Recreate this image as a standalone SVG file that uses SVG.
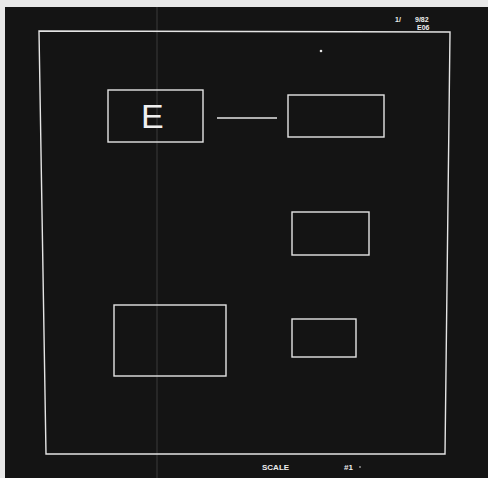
<svg xmlns="http://www.w3.org/2000/svg" width="488" height="478" viewBox="0 0 488 478">
<style>
.ln{fill:none;stroke:#e4e4e4;stroke-width:1.4}
.txt{fill:#eeeeee;font-family:"Liberation Sans",Arial,sans-serif;font-weight:bold}
</style>
<rect x="0" y="0" width="488" height="478" fill="#e8e8e8"/>
<rect x="5" y="7" width="483" height="471" fill="#141414"/>
<line x1="157" y1="7" x2="157" y2="478" stroke="#3a3a3a" stroke-width="1"/>
<g id="frame">
<polygon class="ln" points="39,31 450,32 445,454 46,454"/>
</g>
<g id="node-e">
<rect class="ln" x="108" y="90" width="95" height="52"/>
<text x="141" y="128" font-family="'Liberation Sans',Arial,sans-serif" font-size="34" fill="#f0f0f0">E</text>
</g>
<g id="node-2"><rect class="ln" x="288" y="95" width="96" height="42"/></g>
<g id="node-3"><rect class="ln" x="292" y="212" width="77" height="43"/></g>
<g id="node-4"><rect class="ln" x="114" y="305" width="112" height="71"/></g>
<g id="node-5"><rect class="ln" x="292" y="319" width="64" height="38"/></g>
<g id="connectors">
<line class="ln" x1="217" y1="118" x2="277" y2="118"/>
</g>
<circle cx="321" cy="51" r="1.3" fill="#e4e4e4"/>
<g id="labels">
<text class="txt" x="395" y="22" font-size="7">1/</text>
<text class="txt" x="415" y="22" font-size="7">9/82</text>
<text class="txt" x="417" y="30" font-size="7">E06</text>
<text class="txt" x="262" y="470" font-size="8">SCALE</text>
<text class="txt" x="344" y="470" font-size="8">#1</text>
<circle cx="360" cy="467" r="0.8" fill="#e4e4e4"/>
</g>
</svg>
